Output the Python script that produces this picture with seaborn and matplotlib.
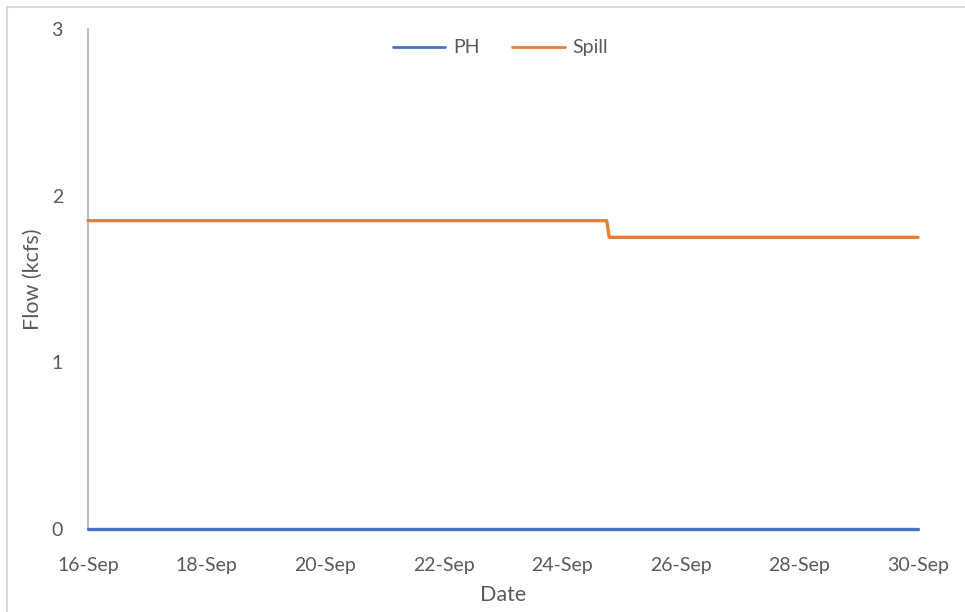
import matplotlib.pyplot as plt
import matplotlib.dates as mdates
import seaborn as sns
import pandas as pd
from matplotlib.lines import Line2D

# data
times = ["2023-09-16 00:00", "2023-09-24 18:00", "2023-09-24 19:00", "2023-09-30 00:00"]
ph_flow = [0.0, 0.0, 0.0, 0.0]
spill_flow = [1.85, 1.85, 1.75, 1.75]
tick_days = ["2023-09-16", "2023-09-18", "2023-09-20", "2023-09-22",
             "2023-09-24", "2023-09-26", "2023-09-28", "2023-09-30"]

df = pd.DataFrame({"Date": pd.to_datetime(times), "PH": ph_flow, "Spill": spill_flow})
long = df.melt(id_vars="Date", var_name="series", value_name="Flow")

sns.set_style("white")
plt.rcParams['font.family'] = ['Lato', 'DejaVu Sans']
grey = "#595959"

fig = plt.figure(figsize=(9.65, 6.12), dpi=100)
ax = fig.add_axes([88 / 965, 83 / 612, 830 / 965, 500 / 612])

sns.lineplot(data=long, x="Date", y="Flow", hue="series",
             palette={"PH": "#4472C4", "Spill": "#ED7D31"},
             linewidth=2.4, ax=ax)
for ln in ax.get_lines():
    ln.set_clip_on(False)
    ln.set_zorder(5)

ax.set_xlim(pd.Timestamp(tick_days[0]), pd.Timestamp(tick_days[-1]))
ax.set_ylim(0, 3)
ax.set_yticks([0, 1, 2, 3])
ax.set_xticks(pd.to_datetime(tick_days))
ax.xaxis.set_major_formatter(mdates.DateFormatter("%-d-%b"))
ax.tick_params(axis="both", colors=grey, labelsize=14, length=0)
ax.tick_params(axis="x", pad=20)
ax.tick_params(axis="y", pad=18)

for s in ["top", "right"]:
    ax.spines[s].set_visible(False)
ax.spines["left"].set_color("#BFBFBF")
ax.spines["left"].set_linewidth(1.5)
ax.spines["bottom"].set_color("#BFBFBF")

ax.set_xlabel("Date", fontsize=15.5, color=grey, labelpad=8)
ax.set_ylabel("Flow (kcfs)", fontsize=15.5, color=grey, labelpad=6)

leg = ax.legend(loc="upper center", bbox_to_anchor=(0.497, 1.014), ncol=2, frameon=False,
                fontsize=14, handlelength=2.7, columnspacing=1.7, handletextpad=0.4)
for t in leg.get_texts():
    t.set_color(grey)
for h in leg.legend_handles:
    h.set_linewidth(2)

# light chart-area border (top and left visible in reference)
fig.add_artist(Line2D([7 / 965, 1], [1 - 7 / 612, 1 - 7 / 612], color="#D9D9D9", lw=1.5))
fig.add_artist(Line2D([7 / 965, 7 / 965], [0, 1 - 7 / 612], color="#D9D9D9", lw=1.5))

fig.savefig("out.png", dpi=100)
